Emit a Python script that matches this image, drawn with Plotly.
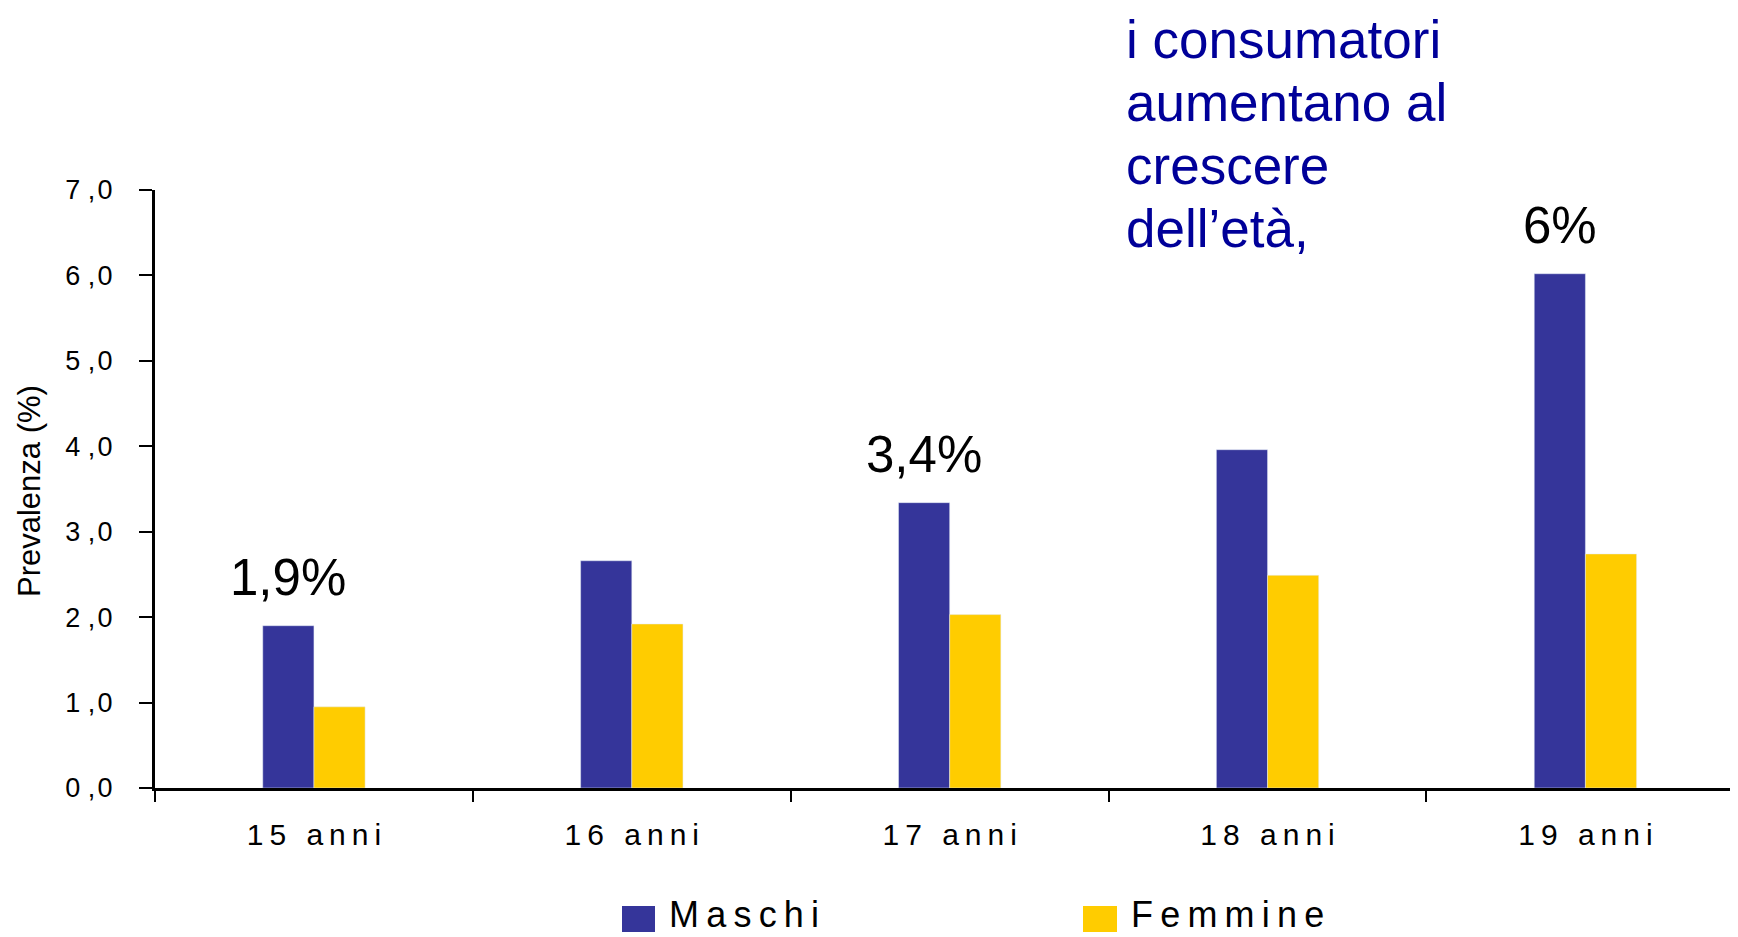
import plotly.graph_objects as go

# data
categories = ['15 anni', '16 anni', '17 anni', '18 anni', '19 anni']
maschi = [1.9, 2.66, 3.34, 3.96, 6.02]
femmine = [0.95, 1.92, 2.03, 2.49, 2.74]
highlight_cats = ['15 anni', '17 anni', '19 anni']
highlight_vals = [1.9, 3.34, 6.02]
highlight_txt = ['1,9%', '3,4%', '6%']
y_ticks = [0, 1, 2, 3, 4, 5, 6, 7]
note_lines = ['i consumatori', 'aumentano al', 'crescere', 'dell\u2019età,']

BLUE = '#35359a'
YELLOW = '#ffcc00'
NOTE_BLUE = '#000099'
FONT = 'Liberation Sans, Arial, sans-serif'
TS = '\u2009'  # thin space, mimics the loose letter spacing of the original
HS = '\u200a'  # hair space


def spaced(s):
    return TS.join(s)


# the browser adds an 8px body margin, so the figure is 8px smaller
OFF = 8
W, H = 1738 - OFF, 937 - OFF
ML, MR, MT, MB = 155 - OFF, 0, 190 - OFF, 149
PW, PH = W - ML - MR, H - MT - MB


def px(x):
    # page x -> paper x
    return (x - OFF - ML) / PW


def py(y):
    # page y -> paper y
    return (H - MB - (y - OFF)) / PH


fig = go.Figure()
fig.add_trace(go.Bar(x=categories, y=maschi, name='Maschi', marker_color=BLUE, showlegend=False))
fig.add_trace(go.Bar(x=categories, y=femmine, name='Femmine', marker_color=YELLOW, showlegend=False))

# last category is slightly clipped at the right edge, as in the original
x_range = [-0.5, len(categories) - 0.52]
cat_px = PW / (x_range[1] - x_range[0])
bar_w = cat_px * 0.161
for c, v, t in zip(highlight_cats, highlight_vals, highlight_txt):
    fig.add_annotation(x=c, y=v, text=t, showarrow=False, xref='x', yref='y',
                       xshift=-bar_w / 2, yanchor='bottom', yshift=18,
                       font=dict(size=51, color='black', family=FONT))

for i, line in enumerate(note_lines):
    fig.add_annotation(x=px(1124), y=py(39 + i * 63.2), xref='paper', yref='paper', text=line,
                       showarrow=False, xanchor='left', yanchor='middle', align='left',
                       font=dict(size=53, color=NOTE_BLUE, family=FONT))

fig.add_annotation(x=px(29), y=py(491), xref='paper', yref='paper', text='Prevalenza (%)',
                   showarrow=False, textangle=-90, xanchor='center', yanchor='middle',
                   font=dict(size=31, color='black', family=FONT))

# legend drawn by hand so the swatches match the original size
for name, col, x0, x1 in [('Maschi', BLUE, 622, 655), ('Femmine', YELLOW, 1083, 1117)]:
    fig.add_shape(type='rect', xref='paper', yref='paper',
                  x0=px(x0), x1=px(x1), y0=py(932), y1=py(906),
                  fillcolor=col, line_width=0)
    fig.add_annotation(x=px(x1 + 12), y=py(937), xref='paper', yref='paper',
                       text=spaced(name), showarrow=False, xanchor='left', yanchor='bottom',
                       font=dict(size=36, color='black', family=FONT))

fig.update_layout(
    width=W, height=H,
    margin=dict(l=ML, r=MR, t=MT, b=MB, autoexpand=False),
    paper_bgcolor='white', plot_bgcolor='white',
    barmode='group', bargap=0.678, bargroupgap=0,
    font=dict(family=FONT, color='black'),
    showlegend=False,
)
fig.update_xaxes(
    range=x_range, tickvals=categories, ticktext=[spaced(c) for c in categories],
    showline=True, linecolor='black', linewidth=2.5,
    ticks='outside', tickson='boundaries', ticklen=11, tickwidth=2, tickcolor='black',
    tickfont=dict(size=30, family=FONT), ticklabelstandoff=18,
    showgrid=False, zeroline=False,
)
fig.update_yaxes(
    range=[0, 7], tickvals=y_ticks,
    ticktext=[f'{v:.1f}'.replace('.', ' ,' + HS) for v in y_ticks],
    showline=True, linecolor='black', linewidth=3,
    ticks='outside', ticklen=13, tickwidth=2, tickcolor='black',
    tickfont=dict(size=27, family=FONT), ticklabelstandoff=21,
    showgrid=False, zeroline=False,
)

fig.write_html('out.html')
